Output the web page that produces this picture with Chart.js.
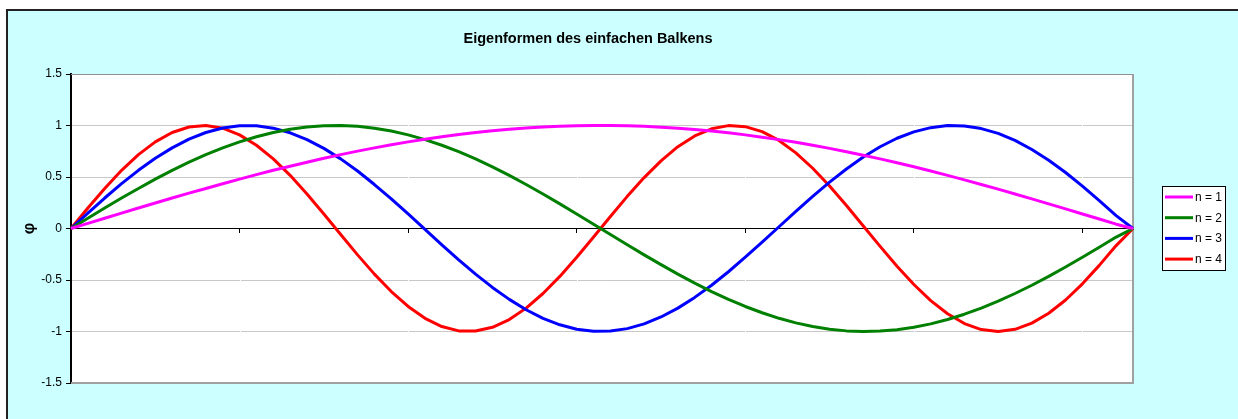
<!DOCTYPE html>
<html>
<head>
<meta charset="utf-8">
<script src="https://cdn.jsdelivr.net/npm/chart.js@4/dist/chart.umd.min.js"></script>
<style>
  html, body { margin: 0; padding: 0; background: #fff; }
  #wrap { width: 1238px; height: 419px; position: relative; }
</style>
</head>
<body>
<div id="wrap"><canvas id="eigen"></canvas></div>
<script>
// x-Werte (Kategorien)
const xValues = [0,0.05,0.1,0.15,0.2,0.25,0.3,0.35,0.4,0.45,0.5,0.55,0.6,0.65,0.7,0.75,0.8,0.85,0.9,0.95,1,1.05,1.1,1.15,1.2,1.25,1.3,1.35,1.4,1.45,1.5,1.55,1.6,1.65,1.7,1.75,1.8,1.85,1.9,1.95,2,2.05,2.1,2.15,2.2,2.25,2.3,2.35,2.4,2.45,2.5,2.55,2.6,2.65,2.7,2.75,2.8,2.85,2.9,2.95,3,3.05,3.1,3.1416];

// Eigenformen n = 1..4
const mode1 = [0,0.05,0.1,0.149,0.199,0.247,0.296,0.343,0.389,0.435,0.479,0.523,0.565,0.605,0.644,0.682,0.717,0.751,0.783,0.813,0.841,0.867,0.891,0.913,0.932,0.949,0.964,0.976,0.985,0.993,0.997,1,1,0.997,0.992,0.984,0.974,0.961,0.946,0.929,0.909,0.887,0.863,0.837,0.808,0.778,0.746,0.712,0.676,0.638,0.599,0.558,0.516,0.472,0.427,0.382,0.335,0.288,0.239,0.19,0.141,0.092,0.042,0];
const mode2 = [0,0.1,0.199,0.296,0.389,0.479,0.565,0.644,0.717,0.783,0.841,0.891,0.932,0.964,0.985,0.997,1,0.992,0.974,0.946,0.909,0.863,0.808,0.746,0.676,0.599,0.516,0.427,0.335,0.239,0.141,0.042,-0.058,-0.158,-0.256,-0.351,-0.443,-0.53,-0.612,-0.688,-0.757,-0.818,-0.872,-0.916,-0.952,-0.978,-0.994,-1,-0.996,-0.983,-0.959,-0.926,-0.884,-0.832,-0.773,-0.706,-0.631,-0.551,-0.465,-0.374,-0.279,-0.182,-0.083,0];
const mode3 = [0,0.149,0.296,0.435,0.565,0.682,0.783,0.867,0.932,0.976,0.997,0.997,0.974,0.929,0.863,0.778,0.676,0.558,0.427,0.288,0.141,-0.008,-0.158,-0.304,-0.443,-0.572,-0.688,-0.789,-0.872,-0.935,-0.978,-0.998,-0.996,-0.972,-0.926,-0.859,-0.773,-0.669,-0.551,-0.42,-0.279,-0.133,0.017,0.166,0.312,0.45,0.578,0.694,0.794,0.876,0.938,0.979,0.999,0.995,0.97,0.923,0.855,0.767,0.663,0.544,0.412,0.271,0.125,0];
const mode4 = [0,0.199,0.389,0.565,0.717,0.841,0.932,0.985,1,0.974,0.909,0.808,0.676,0.516,0.335,0.141,-0.058,-0.256,-0.443,-0.612,-0.757,-0.872,-0.952,-0.994,-0.996,-0.959,-0.884,-0.773,-0.631,-0.465,-0.279,-0.083,0.117,0.312,0.494,0.657,0.794,0.899,0.968,0.999,0.989,0.941,0.855,0.734,0.585,0.412,0.223,0.025,-0.174,-0.367,-0.544,-0.7,-0.828,-0.923,-0.981,-1,-0.979,-0.919,-0.823,-0.694,-0.537,-0.358,-0.166,0];

const seriesNames = ["n = 1", "n = 2", "n = 3", "n = 4"];
const seriesColors = ["#ff00ff", "#008000", "#0000ff", "#ff0000"];
const yTickValues = [-1.5, -1, -0.5, 0, 0.5, 1, 1.5];
const chartTitle = "Eigenformen des einfachen Balkens";

Chart.defaults.font.family = '"Liberation Sans", Arial, sans-serif';
Chart.defaults.color = "#000";

// Hintergrund, Rahmen, Titel, Legende im Excel-Stil
const excelLook = {
  id: "excelLook",
  beforeDraw(chart) {
    const ctx = chart.ctx;
    const a = chart.chartArea;
    ctx.save();
    ctx.fillStyle = "#fff";
    ctx.fillRect(0, 0, chart.width, chart.height);
    ctx.fillStyle = "#ccffff";
    ctx.fillRect(8, 11, chart.width, chart.height);
    ctx.strokeStyle = "#222";
    ctx.lineWidth = 2;
    ctx.beginPath();
    ctx.moveTo(7, chart.height + 5);
    ctx.lineTo(7, 10);
    ctx.lineTo(chart.width + 5, 10);
    ctx.stroke();
    ctx.fillStyle = "#fff";
    ctx.fillRect(a.left, a.top, a.right - a.left, a.bottom - a.top);
    // Titel
    ctx.fillStyle = "#000";
    ctx.font = 'bold 14.5px "Liberation Sans", Arial, sans-serif';
    ctx.textAlign = "center";
    ctx.textBaseline = "middle";
    ctx.fillText(chartTitle, 588, 39);
    ctx.restore();
  },
  beforeDatasetsDraw(chart) {
    // weisse senkrechte Gitterlinien an den Teilstrichen
    const ctx = chart.ctx;
    const a = chart.chartArea;
    const xs = chart.scales.x;
    const y0 = chart.scales.y.getPixelForValue(0);
    ctx.save();
    ctx.strokeStyle = "#fff";
    ctx.lineWidth = 1;
    for (let i = 10; i < xValues.length; i += 10) {
      const x = Math.round(xs.getPixelForValue(i)) + 0.5;
      ctx.beginPath();
      ctx.moveTo(x, a.top + 1);
      ctx.lineTo(x, y0 - 1);
      ctx.moveTo(x, y0 + 5);
      ctx.lineTo(x, a.bottom - 1);
      ctx.stroke();
    }
    // Rahmen der Zeichenfläche
    ctx.strokeStyle = "#909090";
    ctx.lineWidth = 1;
    ctx.beginPath();
    ctx.moveTo(a.left, a.top + 0.5);
    ctx.lineTo(a.right, a.top + 0.5);
    ctx.stroke();
    ctx.strokeStyle = "#a0a0a0";
    ctx.lineWidth = 2;
    ctx.beginPath();
    ctx.moveTo(a.right, a.top);
    ctx.lineTo(a.right, a.bottom);
    ctx.lineTo(a.left, a.bottom);
    ctx.stroke();
    ctx.restore();
  },
  afterDraw(chart) {
    const ctx = chart.ctx;
    ctx.save();
    ctx.fillStyle = "#fff";
    ctx.fillRect(1162, 186, 63, 84);
    ctx.strokeStyle = "#000";
    ctx.lineWidth = 1;
    ctx.strokeRect(1162.5, 186.5, 63, 84);
    ctx.font = '12px "Liberation Sans", Arial, sans-serif';
    ctx.textAlign = "left";
    ctx.textBaseline = "middle";
    chart.data.datasets.forEach((ds, i) => {
      const y = 197 + i * 20.7;
      ctx.strokeStyle = ds.borderColor;
      ctx.lineWidth = 3;
      ctx.beginPath();
      ctx.moveTo(1165, y);
      ctx.lineTo(1193, y);
      ctx.stroke();
      ctx.fillStyle = "#000";
      ctx.fillText(ds.label, 1195, y + 0.5);
    });
    ctx.restore();
  }
};

const allModes = [mode1, mode2, mode3, mode4];
const datasets = allModes.map((vals, i) => ({
  label: seriesNames[i],
  data: vals,
  borderColor: seriesColors[i],
  backgroundColor: seriesColors[i],
  borderWidth: 3,
  pointRadius: 0,
  tension: 0,
  borderJoinStyle: "round",
  fill: false
}));

const config = {
  type: "line",
  data: { labels: xValues, datasets },
  options: {
    responsive: true,
    maintainAspectRatio: false,
    animation: false,
    layout: { padding: { left: 8, top: 74, right: 105, bottom: 36 } },
    plugins: {
      legend: { display: false },
      title: { display: false },
      tooltip: { enabled: false }
    },
    scales: {
      x: {
        type: "category",
        position: { y: 0 },
        offset: false,
        ticks: { display: false, autoSkip: false },
        grid: {
          drawOnChartArea: false,
          drawTicks: true,
          tickLength: 4,
          tickColor: (c) => (c.index % 10 === 0 ? "#000" : "rgba(0,0,0,0)")
        },
        border: { color: "#000", width: 1 }
      },
      y: {
        min: -1.5,
        max: 1.5,
        afterBuildTicks: (scale) => {
          scale.ticks = yTickValues.map((v) => ({ value: v }));
        },
        afterFit: (scale) => { scale.width = 63; },
        ticks: {
          padding: 4,
          font: { size: 12 },
          color: "#000",
          callback: (v) => String(v)
        },
        grid: {
          color: (c) => (c.tick && c.tick.value === 0 ? "rgba(0,0,0,0)" : "#c8c8c8"),
          tickLength: 5,
          tickColor: "#000",
          lineWidth: 1
        },
        border: { color: "#000", width: 2 },
        title: {
          display: true,
          text: "φ",
          font: { size: 16, weight: "bold" },
          color: "#000",
          padding: { top: 12, bottom: 0 }
        }
      }
    }
  },
  plugins: [excelLook]
};

const canvas = document.getElementById("eigen");
const eigenChart = new Chart(canvas, config);
</script>
</body>
</html>
